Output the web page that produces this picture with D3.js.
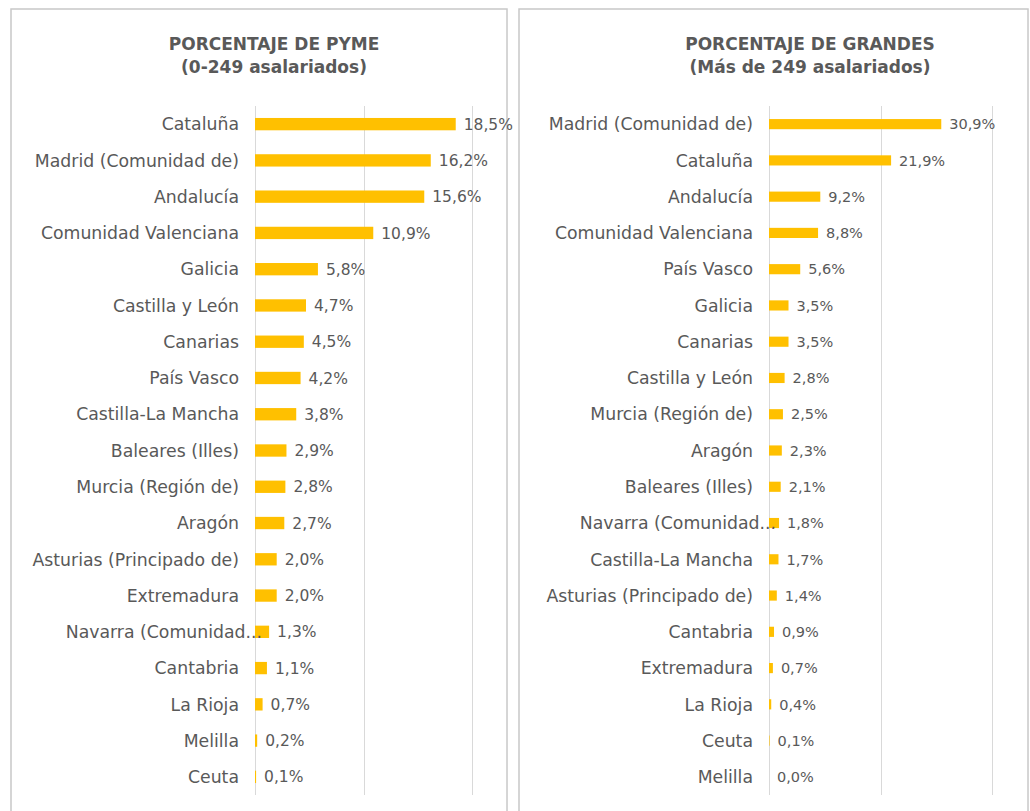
<!DOCTYPE html>
<html>
<head>
<meta charset="utf-8">
<script src="https://cdn.jsdelivr.net/npm/d3@7"></script>
<style>
  html, body { margin: 0; padding: 0; background: #ffffff; }
  svg { display: block; }
  text { font-family: "DejaVu Sans", sans-serif; fill: #595959; }
</style>
</head>
<body>
<svg id="chart" width="1030" height="811"></svg>
<script>
// ---- Data ----
const pymeTitle = ["PORCENTAJE DE PYME", "(0-249 asalariados)"];
const pymeRegions = ["Cataluña", "Madrid (Comunidad de)", "Andalucía", "Comunidad Valenciana",
  "Galicia", "Castilla y León", "Canarias", "País Vasco", "Castilla-La Mancha",
  "Baleares (Illes)", "Murcia (Región de)", "Aragón", "Asturias (Principado de)",
  "Extremadura", "Navarra (Comunidad...", "Cantabria", "La Rioja", "Melilla", "Ceuta"];
const pymeValues = [18.5, 16.2, 15.6, 10.9, 5.8, 4.7, 4.5, 4.2, 3.8, 2.9, 2.8, 2.7, 2.0, 2.0, 1.3, 1.1, 0.7, 0.2, 0.1];
const pymeTicks = [0, 10, 20];

const grandesTitle = ["PORCENTAJE DE GRANDES", "(Más de 249 asalariados)"];
const grandesRegions = ["Madrid (Comunidad de)", "Cataluña", "Andalucía", "Comunidad Valenciana",
  "País Vasco", "Galicia", "Canarias", "Castilla y León", "Murcia (Región de)", "Aragón",
  "Baleares (Illes)", "Navarra (Comunidad...", "Castilla-La Mancha", "Asturias (Principado de)",
  "Cantabria", "Extremadura", "La Rioja", "Ceuta", "Melilla"];
const grandesValues = [30.9, 21.9, 9.2, 8.8, 5.6, 3.5, 3.5, 2.8, 2.5, 2.3, 2.1, 1.8, 1.7, 1.4, 0.9, 0.7, 0.4, 0.1, 0.0];
const grandesTicks = [0, 20, 40];

// ---- Drawing ----
const svg = d3.select("#chart");
const fmt = v => v.toFixed(1).replace(".", ",") + "%";

function panel(cfg) {
  const g = svg.append("g");
  // frame
  g.append("rect")
    .attr("x", cfg.frame[0]).attr("y", cfg.frame[1])
    .attr("width", cfg.frame[2]).attr("height", cfg.frame[3])
    .attr("fill", "#ffffff").attr("stroke", "#c8c8c8").attr("stroke-width", 1.5);

  // title
  g.append("text").attr("x", cfg.titleX).attr("y", 50)
    .attr("text-anchor", "middle").style("font-size", "17px").style("font-weight", "bold")
    .text(cfg.title[0]);
  g.append("text").attr("x", cfg.titleX).attr("y", 73)
    .attr("text-anchor", "middle").style("font-size", "17px").style("font-weight", "bold")
    .text(cfg.title[1]);

  const x = d3.scaleLinear().domain([cfg.ticks[0], cfg.ticks[cfg.ticks.length - 1]]).range(cfg.xRange);
  const y = d3.scaleBand().domain(cfg.regions).range([106, 795])
    .paddingInner(cfg.pad).paddingOuter(cfg.pad / 2);

  // gridlines
  g.append("g").selectAll("line").data(cfg.ticks).join("line")
    .attr("x1", d => Math.round(x(d)) + 0.5).attr("x2", d => Math.round(x(d)) + 0.5)
    .attr("y1", 106).attr("y2", 795)
    .attr("stroke", "#d9d9d9").attr("stroke-width", 1);

  const data = cfg.regions.map((r, i) => ({ r, v: cfg.values[i] }));

  // bars
  g.append("g").selectAll("rect").data(data).join("rect")
    .attr("x", x(0)).attr("y", d => y(d.r))
    .attr("width", d => x(d.v) - x(0)).attr("height", y.bandwidth())
    .attr("fill", "#FFC000");

  // category labels
  g.append("g").selectAll("text").data(data).join("text")
    .attr("x", d => d.r.endsWith("...") ? x(0) + 7 : x(0) - 16)
    .attr("y", d => y(d.r) + y.bandwidth() / 2)
    .attr("dy", "0.36em").attr("text-anchor", "end")
    .style("font-size", "17.3px")
    .text(d => d.r);

  // value labels
  g.append("g").selectAll("text").data(data).join("text")
    .attr("x", d => x(d.v) + 8)
    .attr("y", d => y(d.r) + y.bandwidth() / 2)
    .attr("dy", "0.36em").attr("text-anchor", "start")
    .style("font-size", cfg.valSize)
    .text(d => fmt(d.v));
}

panel({ frame: [11, 9, 496, 820], title: pymeTitle, titleX: 274,
  regions: pymeRegions, values: pymeValues, ticks: pymeTicks,
  xRange: [255, 472], pad: 0.66, valSize: "15.5px" });

panel({ frame: [519, 9, 509, 820], title: grandesTitle, titleX: 810,
  regions: grandesRegions, values: grandesValues, ticks: grandesTicks,
  xRange: [769, 992], pad: 0.72, valSize: "14.5px" });
</script>
</body>
</html>
